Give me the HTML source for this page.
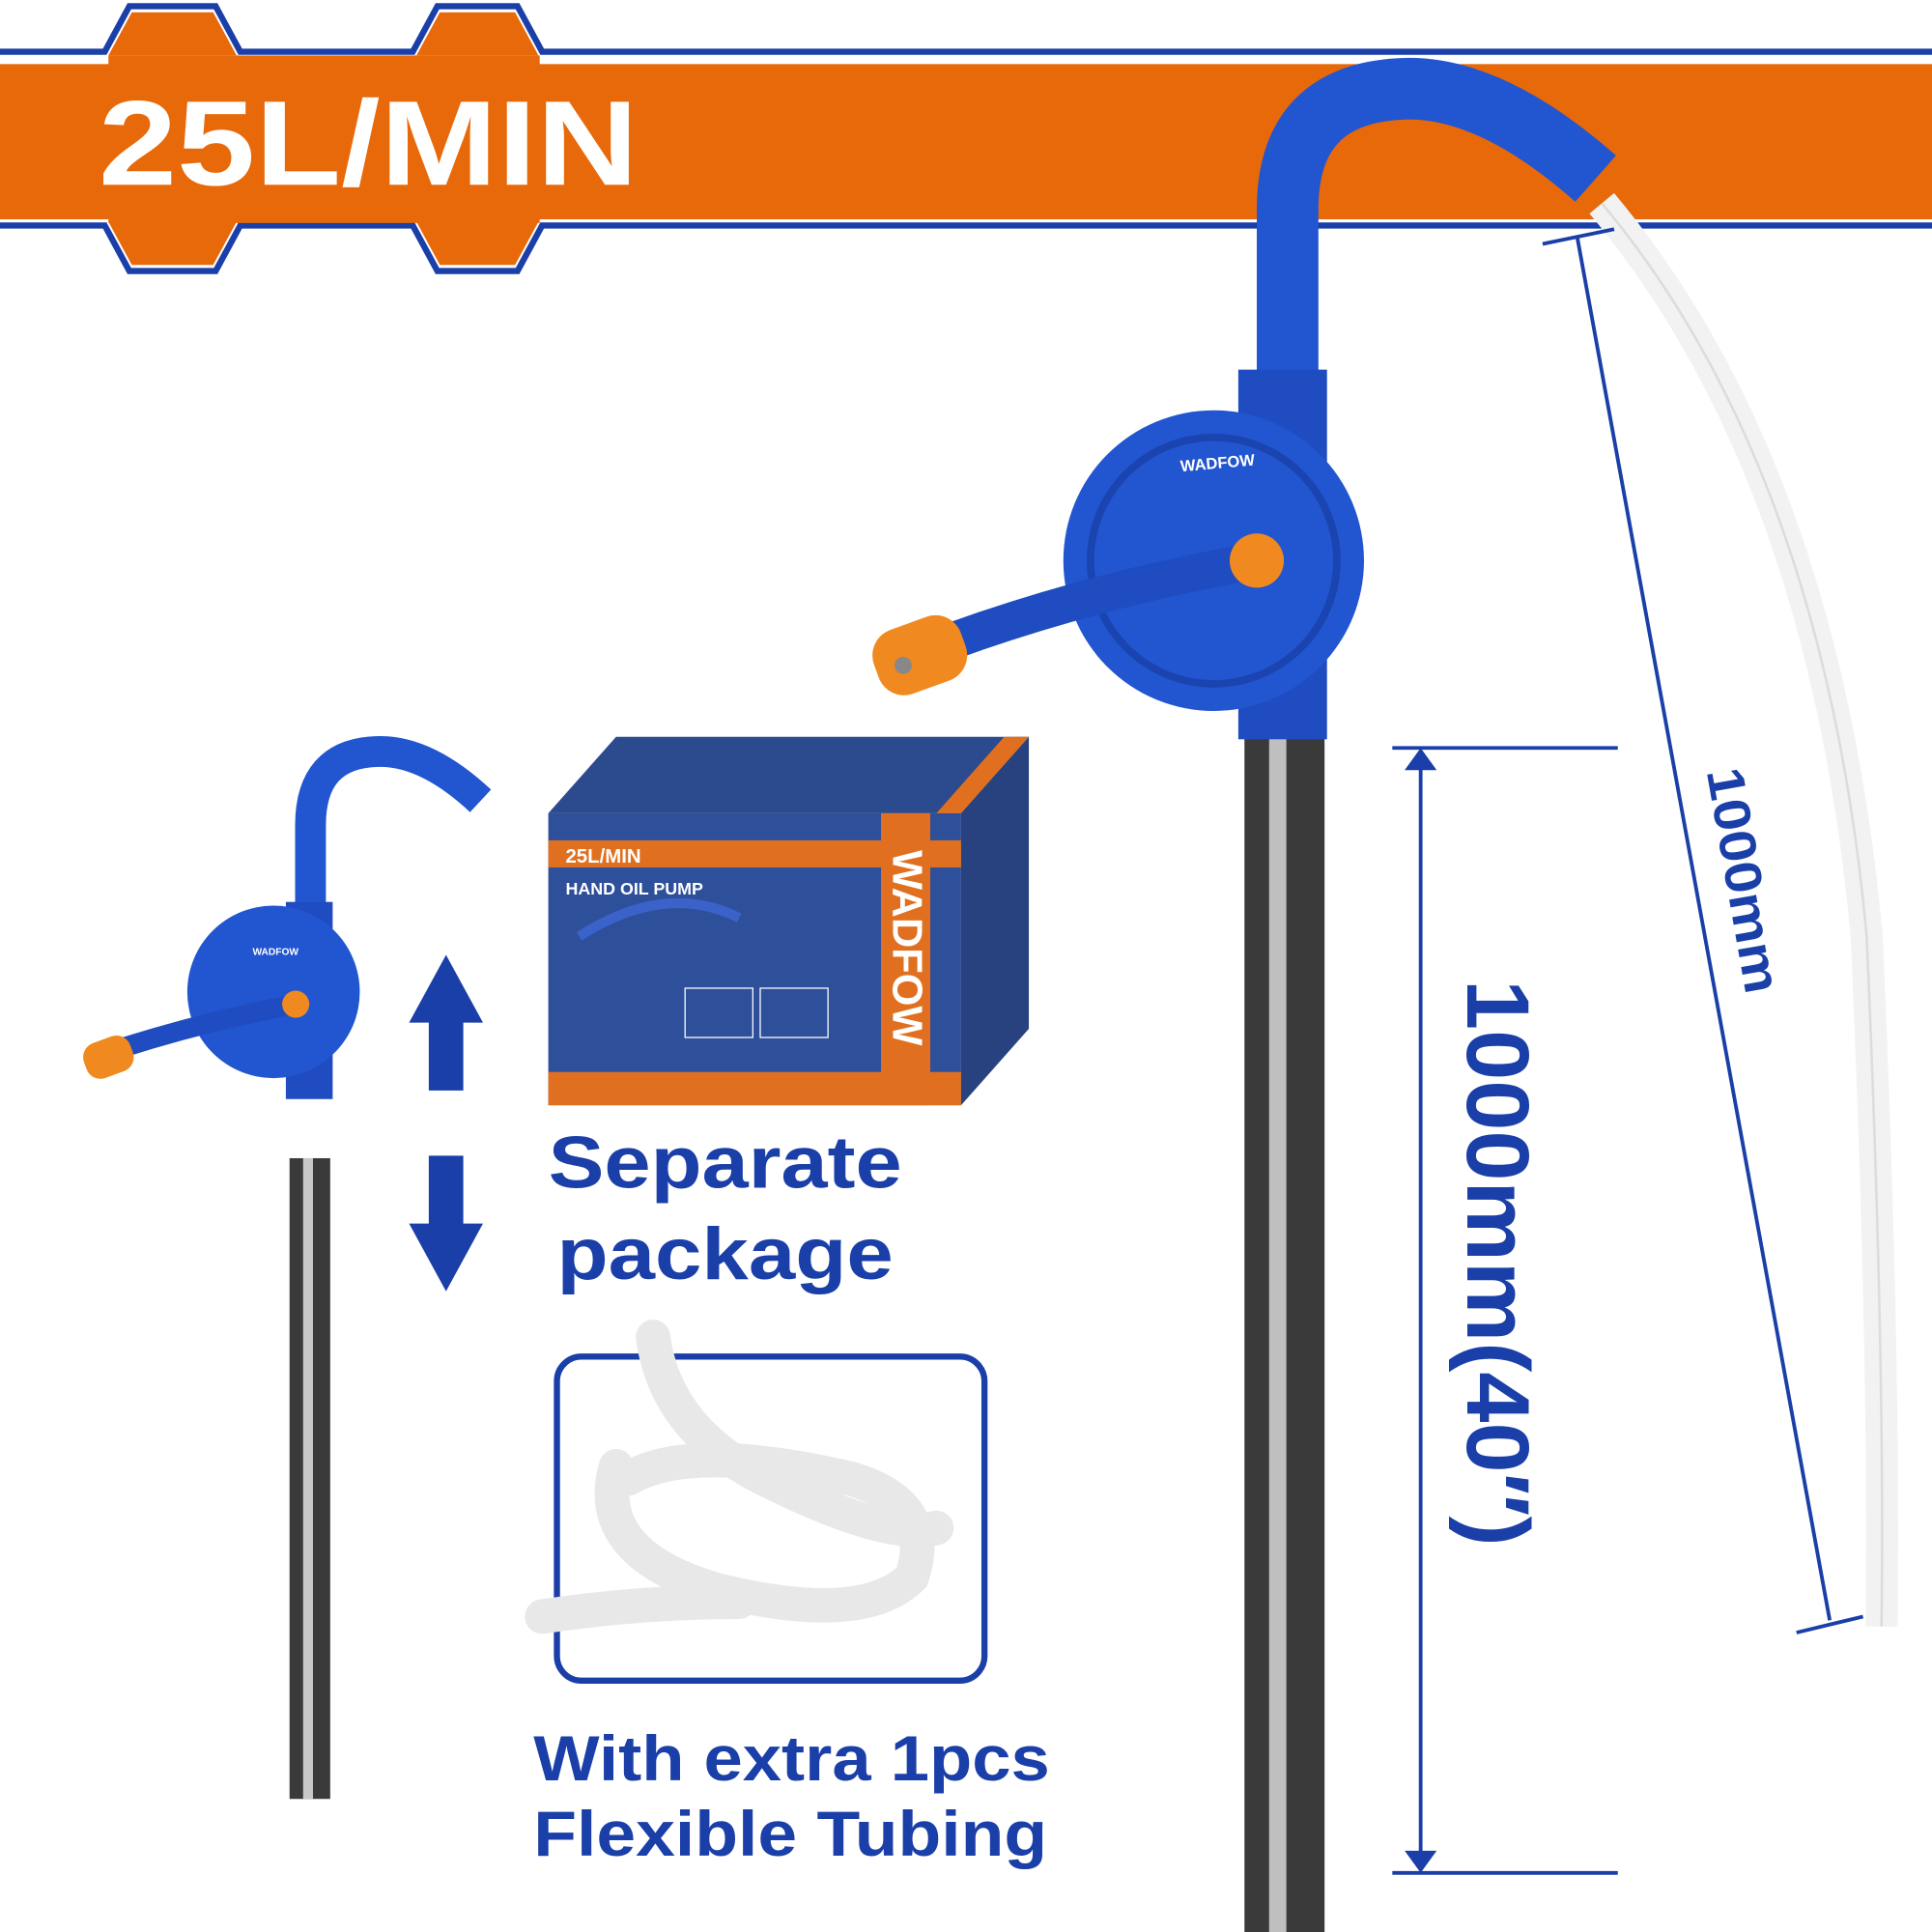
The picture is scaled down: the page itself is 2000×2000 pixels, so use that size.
<!DOCTYPE html>
<html><head><meta charset="utf-8"><style>
html,body{margin:0;padding:0;background:#fff;}
svg{display:block;}
text{font-family:"Liberation Sans",Arial,sans-serif;font-weight:bold;}
</style></head><body>
<svg width="2000" height="2000" viewBox="0 0 1568 1568" preserveAspectRatio="none" xmlns="http://www.w3.org/2000/svg">
<rect width="1568" height="1568" fill="#fff"/>
<rect x="0" y="52" width="1568" height="126" fill="#e8690a"/>
<path d="M0 42 H85 L105 5 H175 L195 42 H335 L355 5 H420 L440 42 H1568" fill="none" stroke="#1a3fa8" stroke-width="5"/>
<path d="M0 183 H85 L105 220 H175 L195 183 H335 L355 220 H420 L440 183 H1568" fill="none" stroke="#1a3fa8" stroke-width="5"/>
<path d="M88 45 L107 10 H173 L192 45 H338 L357 10 H418 L437 45Z M88 180 L107 215 H173 L192 180 H338 L357 215 H418 L437 180Z" fill="#e8690a"/>
<rect x="88" y="45" width="350" height="136" fill="#e8690a"/>
<text x="80" y="150" font-size="98" fill="#fff" textLength="438" lengthAdjust="spacingAndGlyphs">25L/MIN</text>

<rect x="1010" y="590" width="65" height="978" fill="#3a3a3a"/>
<rect x="1030" y="590" width="14" height="978" fill="#bfbfbf"/>
<path d="M1045 310 V170 Q1045 75 1140 72 Q1210 70 1295 145" fill="none" stroke="#2255d0" stroke-width="50"/>
<path d="M1300 165 Q1480 380 1515 760 Q1530 1100 1527 1320" fill="none" stroke="#f2f2f2" stroke-width="26"/>
<path d="M1300 165 Q1480 380 1515 760 Q1530 1100 1527 1320" fill="none" stroke="#dcdcdc" stroke-width="2"/>
<rect x="1005" y="300" width="72" height="300" fill="#1f4cc0"/>
<circle cx="985" cy="455" r="122" fill="#2255d0"/>
<circle cx="985" cy="455" r="100" fill="none" stroke="#1a44b0" stroke-width="6"/>
<text x="958" y="380" font-size="13" fill="#fff" transform="rotate(-5 990 378)">WADFOW</text>
<path d="M760 525 Q880 480 1020 455" stroke="#1f4cc0" stroke-width="30" fill="none"/>
<circle cx="1020" cy="455" r="22" fill="#f08a20"/>
<rect x="710" y="505" width="75" height="55" rx="22" fill="#f08a20" transform="rotate(-20 745 535)"/>
<circle cx="733" cy="540" r="7" fill="#888"/>

<line x1="1153" y1="612" x2="1153" y2="1515" stroke="#1a3fa8" stroke-width="3"/>
<line x1="1130" y1="607" x2="1313" y2="607" stroke="#1a3fa8" stroke-width="3"/>
<line x1="1130" y1="1520" x2="1313" y2="1520" stroke="#1a3fa8" stroke-width="3"/>
<path d="M1140 625 L1153 607 L1166 625Z M1140 1502 L1153 1520 L1166 1502Z" fill="#1a3fa8"/>
<text x="1210" y="1025" font-size="72" fill="#1a3fa8" text-anchor="middle" dominant-baseline="middle" textLength="460" lengthAdjust="spacingAndGlyphs" transform="rotate(90 1210 1025)">1000mm(40″)</text>
<line x1="1280" y1="192" x2="1485" y2="1315" stroke="#1a3fa8" stroke-width="3"/>
<line x1="1252" y1="198" x2="1310" y2="186" stroke="#1a3fa8" stroke-width="3"/>
<line x1="1458" y1="1325" x2="1512" y2="1312" stroke="#1a3fa8" stroke-width="3"/>
<text x="1412" y="715" font-size="42" fill="#1a3fa8" text-anchor="middle" dominant-baseline="middle" textLength="185" lengthAdjust="spacingAndGlyphs" transform="rotate(80 1412 715)">1000mm</text>

<rect x="235" y="940" width="33" height="520" fill="#3a3a3a"/>
<rect x="246" y="940" width="8" height="520" fill="#c8c8c8"/>
<path d="M252 740 V670 Q252 612 305 610 Q345 608 390 650" fill="none" stroke="#2255d0" stroke-width="25"/>
<rect x="232" y="732" width="38" height="160" fill="#1f4cc0"/>
<circle cx="222" cy="805" r="70" fill="#2255d0"/>
<text x="205" y="775" font-size="8" fill="#fff">WADFOW</text>
<path d="M85 855 Q160 830 240 815" stroke="#1f4cc0" stroke-width="16" fill="none"/>
<circle cx="240" cy="815" r="11" fill="#f08a20"/>
<rect x="68" y="843" width="40" height="30" rx="12" fill="#f08a20" transform="rotate(-20 88 858)"/>

<path d="M348 885 V830 H332 L362 775 L392 830 H376 V885Z" fill="#1a3fa8"/>
<path d="M348 938 V993 H332 L362 1048 L392 993 H376 V938Z" fill="#1a3fa8"/>

<path d="M445 660 L500 598 H835 L780 660Z" fill="#2c4a8e"/>
<rect x="445" y="660" width="335" height="237" fill="#2e4f9a"/>
<path d="M780 660 L835 598 V835 L780 897Z" fill="#27427f"/>
<rect x="445" y="682" width="335" height="22" fill="#e07020"/>
<rect x="715" y="660" width="40" height="237" fill="#e07020"/>
<rect x="445" y="870" width="335" height="27" fill="#e07020"/>
<path d="M760 660 L815 598 H835 L780 660Z" fill="#e07020"/>
<text x="459" y="700" font-size="16" fill="#fff">25L/MIN</text>
<text x="459" y="726" font-size="14" fill="#fff">HAND OIL PUMP</text>
<text x="0" y="0" font-size="34" fill="#fff" transform="translate(725 690) rotate(90)">WADFOW</text>
<path d="M470 760 Q540 715 600 745" stroke="#3a62c8" stroke-width="8" fill="none"/>
<rect x="556" y="802" width="55" height="40" fill="none" stroke="#fff" stroke-width="1"/>
<rect x="617" y="802" width="55" height="40" fill="none" stroke="#fff" stroke-width="1"/>

<text x="445" y="964" font-size="60" fill="#1a3fa8" textLength="287" lengthAdjust="spacingAndGlyphs">Separate</text>
<text x="452" y="1038" font-size="60" fill="#1a3fa8" textLength="273" lengthAdjust="spacingAndGlyphs">package</text>

<rect x="452" y="1101" width="347" height="263" rx="20" fill="none" stroke="#1a3fa8" stroke-width="5"/>
<g fill="none" stroke="#e8e8e8" stroke-width="28" stroke-linecap="round">
<path d="M530 1085 Q540 1160 620 1200 Q720 1250 760 1240"/>
<path d="M500 1190 Q480 1260 580 1290 Q700 1320 740 1280 Q760 1220 690 1200 Q560 1170 510 1200"/>
<path d="M440 1312 Q520 1300 600 1300"/>
</g>
<text x="433" y="1445" font-size="52" fill="#1a3fa8" textLength="419" lengthAdjust="spacingAndGlyphs">With extra 1pcs</text>
<text x="433" y="1506" font-size="52" fill="#1a3fa8" textLength="417" lengthAdjust="spacingAndGlyphs">Flexible Tubing</text>
</svg>
</body></html>
